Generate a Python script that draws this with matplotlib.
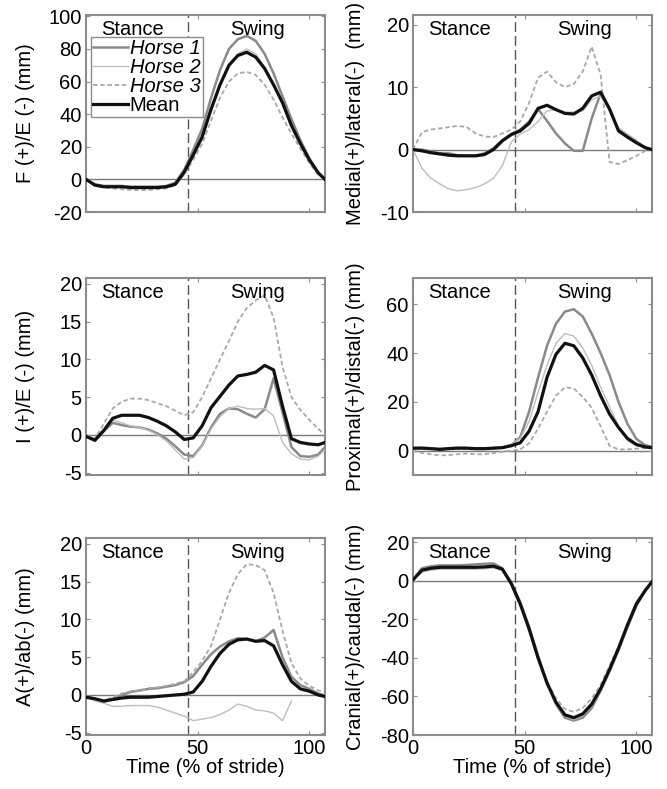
import numpy as np
import matplotlib

matplotlib.use("Agg")
import matplotlib.pyplot as plt

plt.rcParams["font.family"] = ["Liberation Sans", "DejaVu Sans"]
plt.rcParams["axes.unicode_minus"] = False

# % of stride
x = [0, 4, 8, 12, 16, 20, 24, 28, 32, 36, 40, 44, 48, 52, 56, 60, 64, 68,
     72, 76, 80, 84, 88, 92, 96, 100, 104, 107]
stance_end = 45.5
nan = np.nan

# Flexion/extension
fe_h1 = [0, -3, -4, -4, -4, -4.5, -4.5, -4.5, -4.5, -4, -2, 6, 18, 31, 50, 67, 80, 86,
         88, 85, 77, 65, 51, 37, 24, 13, 4, 0]
fe_h2 = [0, -3.5, -4.5, -4, -4, -4.5, -4.5, -4.5, -4.5, -4, -3.5, 3, 14, 25, 42, 57, 70, 77,
         80, 77, 69, 58, 46, 33, 22, 12, 4, 0]
fe_h3 = [0, -4, -5, -5.5, -6, -6.5, -6.5, -6.5, -6, -5.5, -3.5, 3, 12, 22, 36, 50, 60, 65,
         66, 64, 58, 49, 38, 28, 19, 10, 3, 0]
fe_mean = [0, -3.5, -4.5, -4.5, -4.5, -5, -5, -5, -5, -4.5, -3, 4.5, 15, 26, 43, 58, 70, 76,
           78, 75, 68, 58, 47, 33, 22, 12, 4, 0]

# Medial/lateral
ml_h1 = [0, 0, -0.3, -0.6, -0.6, -0.9, -1, -1, -0.6, 0.2, 1.5, 2.5, 3.2, 4.5, 6.5, 4.6, 2.6, 1,
         -0.2, -0.2, 5, 9, 6.5, 3.2, 2.2, 1.3, 0.3, 0]
ml_h2 = [0, -3, -4.6, -5.5, -6.3, -6.6, -6.4, -6.1, -5.5, -4.6, -2.6, 1.2, 2.5, 3.2, 4.5, 6.2, 6.4, 6,
         6, 6.2, 8, 8.5, 6.5, 3.5, 2.5, 1.5, 0.3, 0]
ml_h3 = [0, 2.8, 3.2, 3.4, 3.6, 3.8, 3.6, 2.6, 2.1, 2, 2.6, 3.2, 4.5, 7.5, 11.5, 12.5, 10.8, 10,
         10.5, 12.5, 16.5, 12, -2, -2.3, -1.7, -1, -0.2, 0]
ml_mean = [0, -0.2, -0.5, -0.7, -0.9, -1, -1, -1, -0.8, 0, 1.4, 2.4, 3, 4.2, 6.6, 7.1, 6.4, 5.8,
           5.7, 6.6, 8.6, 9.2, 6.5, 3, 2, 1.1, 0.3, 0]

# Internal/external rotation
ie_h1 = [0, -0.8, 0.5, 1.6, 1.3, 1.1, 1, 0.7, 0.2, -0.5, -1.5, -2.6, -2.8, -1.4, 1, 2.8, 3.5, 3.4,
         2.8, 2.3, 3.4, 7.5, 3, -1.6, -2.8, -2.9, -2.6, -1.6]
ie_h2 = [0, -0.8, 0.5, 2, 1.6, 1.2, 1, 0.6, 0, -0.8, -2, -3.2, -3, -1.5, 0.8, 2.4, 3.5, 3.8,
         3.5, 3.4, 3.5, 2.5, -1, -2.5, -3.2, -3.3, -2.8, -2]
ie_h3 = [0, -0.5, 1.5, 3.5, 4.4, 4.8, 4.8, 4.6, 4.2, 3.8, 3.2, 2.6, 3, 5, 7.5, 10, 12.4, 15,
         16.8, 17.8, 18.5, 15.5, 9, 5, 3.3, 2, 0.8, 0]
ie_mean = [-0.2, -0.7, 0.6, 2.2, 2.6, 2.6, 2.6, 2.3, 1.8, 1.2, 0.4, -0.6, -0.4, 1.2, 3.6, 5.1, 6.6, 7.8,
           8, 8.3, 9.2, 8.6, 3.8, -0.5, -1, -1.2, -1.3, -1]

# Proximal/distal
pd_h1 = [1, 1, 0.8, 0.5, 0.8, 1, 1, 0.8, 0.8, 1, 1.2, 2.2, 5.5, 16, 30, 43, 52, 57,
         58, 55, 48, 40, 31, 20, 11, 4.8, 2.2, 1.5]
pd_h2 = [1, 1.5, 1.2, 1, 1.2, 1.5, 1.2, 1, 1, 1.2, 1.5, 2.5, 5, 12, 24, 35, 44, 48,
         47, 42, 35, 26, 18, 10, 4, 2, 1.5, 1.2]
pd_h3 = [0, -1, -1.5, -2, -1.8, -1.5, -1.2, -1.5, -1.5, -1, -0.5, 0, 0.5, 3, 9, 16, 22.5, 26,
         25.5, 22, 17.5, 10, 2, 0.5, 0.5, 0.8, 1, 1]
pd_mean = [1, 1, 0.8, 0.5, 0.8, 1, 1, 0.8, 0.8, 1, 1.2, 2, 3.2, 8, 16, 30, 39.5, 44,
           43, 38, 31, 22.5, 15, 9.5, 5, 2.5, 1.5, 1.2]

# Adduction/abduction
aa_h1 = [-0.2, -0.5, -0.9, -0.5, 0, 0.4, 0.6, 0.8, 0.9, 1.1, 1.3, 1.7, 2.5, 4, 5.4, 6.4, 7.1, 7.5,
         7.4, 7.1, 7.6, 8.6, 5, 2.4, 1.3, 0.8, 0.2, -0.1]
aa_h2 = [-0.3, -0.8, -1.1, -1.5, -1.5, -1.4, -1.4, -1.4, -1.6, -2, -2.4, -2.8, -3.4, -3.2, -3, -2.6, -2, -1.2,
         -1.5, -2, -2.1, -2.4, -3.4, -0.8, nan, nan, nan, nan]
aa_h3 = [-0.3, -0.5, -0.8, -0.3, 0.2, 0.5, 0.6, 0.9, 1, 1.2, 1.5, 1.8, 3, 4.5, 6.5, 10, 13.5, 16,
         17.3, 17.2, 16.5, 13.5, 8.5, 4.2, 2.2, 1.2, 0.6, 0.3]
aa_mean = [-0.3, -0.5, -0.8, -0.6, -0.4, -0.3, -0.3, -0.3, -0.2, -0.1, 0, 0.1, 0.4, 1.8, 3.8, 5.5, 6.7, 7.3,
           7.4, 7.1, 7.2, 6.5, 4, 1.8, 0.8, 0.5, 0, -0.2]

# Cranial/caudal
cc_h1 = [0.5, 6.5, 7.5, 8, 8, 8, 8.2, 8.5, 8.8, 9, 6.5, -1, -11, -24, -39, -53, -64, -71,
         -72.5, -71, -66, -57, -47, -36, -24, -13, -5, -0.5]
cc_h2 = [0.5, 4.5, 5.5, 6, 6, 6, 6, 6, 6.2, 6.6, 5.5, -2, -13, -26, -41, -54, -64, -70,
         -72, -70, -65, -57, -47, -35, -22, -11, -4, -0.5]
cc_h3 = [0.5, 5.5, 6.5, 7, 7, 7, 7, 7, 7, 7.2, 6, -1.5, -12, -25, -40, -52, -61, -66.5,
         -68, -66, -61, -54, -44, -34, -23, -12, -5, -0.5]
cc_mean = [0.5, 5.5, 6.5, 7, 7, 7, 7, 7, 7.2, 7.6, 6, -1.5, -12, -25, -40, -53, -63, -69.5,
           -71, -69, -64, -56, -46, -35, -23, -12, -5, -0.5]

panels = [
    ("F (+)/E (-) (mm)", (fe_h1, fe_h2, fe_h3, fe_mean), (-20, 101), [-20, 0, 20, 40, 60, 80, 100]),
    ("Medial(+)/lateral(-)  (mm)", (ml_h1, ml_h2, ml_h3, ml_mean), (-10, 21.6), [-10, 0, 10, 20]),
    ("I (+)/E (-) (mm)", (ie_h1, ie_h2, ie_h3, ie_mean), (-5.3, 20.8), [-5, 0, 5, 10, 15, 20]),
    ("Proximal(+)/distal(-) (mm)", (pd_h1, pd_h2, pd_h3, pd_mean), (-10, 70.9), [0, 20, 40, 60]),
    ("A(+)/ab(-) (mm)", (aa_h1, aa_h2, aa_h3, aa_mean), (-5.3, 20.8), [-5, 0, 5, 10, 15, 20]),
    ("Cranial(+)/caudal(-) (mm)", (cc_h1, cc_h2, cc_h3, cc_mean), (-80, 22.3), [-80, -60, -40, -20, 0, 20]),
]
labels = ["Horse 1", "Horse 2", "Horse 3", "Mean"]
styles = [
    dict(color="#8a8a8a", lw=1.8, ls="-"),
    dict(color="#bdbdbd", lw=1.0, ls="-"),
    dict(color="#a9a9a9", lw=1.3, ls=(0, (2.5, 1.5))),
    dict(color="#111111", lw=2.3, ls="-"),
]

fs = 14.5
fig = plt.figure(figsize=(6.67, 7.89), dpi=100)
lefts = [0.1289, 0.6192]
bottoms = [0.7313, 0.3980, 0.0684]
width, height = 0.3583, 0.2500

for idx, (ylabel, series, ylim, yticks) in enumerate(panels):
    row, col = divmod(idx, 2)
    ax = fig.add_axes([lefts[col], bottoms[row], width, height])
    ax.axhline(0, color="#7a7a7a", lw=1.0, zorder=1)
    ax.axvline(stance_end, color="#555555", lw=1.0, ls=(0, (7, 3)), zorder=1)
    for ys, lab, st in zip(series, labels, styles):
        ax.plot(x, ys, label=lab, zorder=3, **st)
    ax.set_xlim(0, 107)
    ax.set_ylim(*ylim)
    ax.set_xticks([0, 50, 100])
    ax.set_yticks(yticks)
    ax.tick_params(direction="in", length=3, width=0.8, color="#909090",
                   top=True, right=True, labelsize=fs, pad=3)
    for sp in ax.spines.values():
        sp.set_color("#8c8c8c")
        sp.set_linewidth(1.5)
    if row < 2:
        ax.set_xticklabels([])
    else:
        ax.set_xlabel("Time (% of stride)", fontsize=fs, labelpad=0)
    ax.set_ylabel(ylabel, fontsize=fs)
    ax.yaxis.set_label_coords(-0.215 if col == 0 else -0.20, 0.5)
    ax.text(21, ylim[1] - 0.025 * (ylim[1] - ylim[0]), "Stance", fontsize=fs,
            ha="center", va="top", zorder=4)
    ax.text(77, ylim[1] - 0.025 * (ylim[1] - ylim[0]), "Swing", fontsize=fs,
            ha="center", va="top", zorder=4)
    if idx == 0:
        leg = ax.legend(loc="upper left", bbox_to_anchor=(0.019, 0.885), borderaxespad=0,
                        fontsize=fs, frameon=True, fancybox=False, framealpha=1,
                        edgecolor="#8c8c8c", borderpad=0.1, labelspacing=0.0,
                        handlelength=1.75, handletextpad=0.1)
        leg.get_frame().set_linewidth(1.0)
        for t in leg.get_texts()[:3]:
            t.set_style("italic")

fig.savefig("out.png", dpi=100)
